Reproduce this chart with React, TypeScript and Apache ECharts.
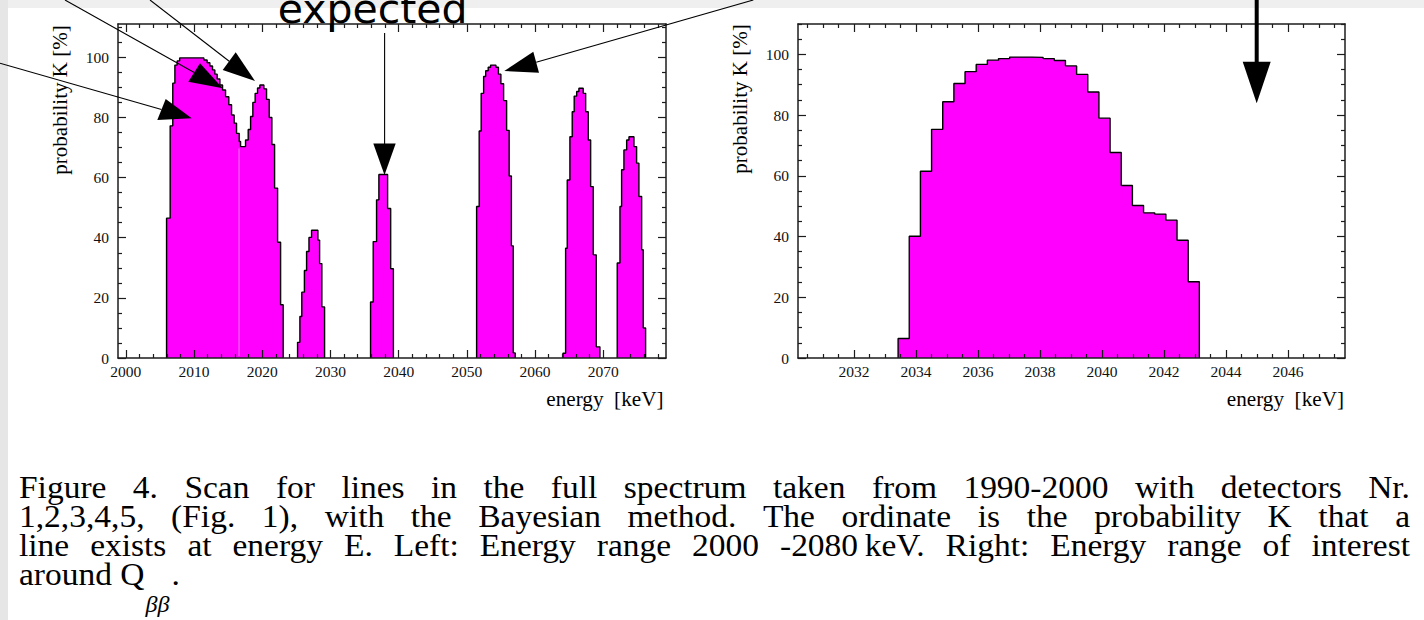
import { useEffect, useRef } from "react";
import * as echarts from "echarts";

const PAGE_W = 1424;
const PAGE_H = 620;

// ---- Left panel: probability K (%) of a line, 2000–2080 keV ----
// Each candidate line: left step edges (keV) and K (%) of every step; the last K (0) closes the step.
const LINE_2016_E = [2005.97, 2006.5, 2006.88, 2007.19, 2007.52, 2007.89, 2011.44, 2011.92, 2012.32, 2012.71, 2013.05, 2013.39, 2013.79, 2014.18, 2014.62, 2015.1, 2015.5, 2015.88, 2016.23, 2016.62, 2016.82, 2017.55, 2017.94, 2018.29, 2018.62, 2018.96, 2019.31, 2019.65, 2020.24, 2020.63, 2021.02, 2021.41, 2021.81, 2022.25, 2022.69, 2023.07];
const LINE_2016_K = [46.5, 77.2, 91.4, 97.4, 98.8, 99.8, 99.1, 98.2, 97.1, 95.8, 94.4, 92.8, 90.8, 89.1, 86.9, 84.2, 80.8, 78.1, 74.7, 72.0, 70.3, 72.5, 76.0, 80.3, 85.0, 88.0, 89.8, 90.8, 89.5, 86.0, 80.0, 71.0, 56.5, 38.5, 17.7, 0];

const LINE_2027_E = [2025.18, 2025.52, 2025.8, 2026.18, 2026.5, 2026.85, 2027.23, 2028.16, 2028.41, 2028.74, 2029.14];
const LINE_2027_K = [5.2, 13.8, 21.9, 29.1, 35.4, 40.1, 42.5, 39.2, 31.4, 17.0, 0];

const LINE_2037_E = [2035.88, 2036.27, 2036.76, 2037.1, 2038.38, 2038.83, 2039.23];
const LINE_2037_K = [18.6, 38.7, 52.6, 61.0, 49.7, 29.7, 0];

const LINE_2054_E = [2051.43, 2051.81, 2052.1, 2052.46, 2052.76, 2053.13, 2053.48, 2054.26, 2054.63, 2054.99, 2055.39, 2055.83, 2056.2, 2056.53, 2056.8, 2057.09];
const LINE_2054_K = [50.4, 75.5, 88.0, 93.6, 95.5, 96.7, 97.4, 96.7, 94.4, 91.2, 85.6, 75.7, 60.5, 37.3, 1.7, 0];

const LINE_2067_E = [2064.09, 2064.48, 2064.72, 2065.11, 2065.45, 2065.74, 2066.1, 2066.43, 2067.06, 2067.42, 2067.8, 2068.15, 2068.53, 2068.97, 2069.51];
const LINE_2067_K = [1.6, 36.5, 59.2, 73.6, 81.9, 87.1, 88.6, 89.7, 88.0, 81.9, 72.5, 57.0, 34.3, 3.7, 0];

const LINE_2074_E = [2072.05, 2072.45, 2072.69, 2073.03, 2073.43, 2073.77, 2074.5, 2074.89, 2075.23, 2075.63, 2075.86, 2076.21];
const LINE_2074_K = [31.6, 50.4, 62.6, 69.2, 72.5, 73.6, 70.3, 64.8, 53.7, 36.0, 10.0, 0];

// pale seam inside the first doublet's fill
const SEAM_E = 2016.6;
const SEAM_K = 70.3;

// ---- Right panel: region of interest around Q_bb, 0.36 keV bins ----
const ROI_BIN_START = 2033.42;
const ROI_BIN_WIDTH = 0.36;
const ROI_K = [6.4, 40.1, 61.5, 75.3, 84.4, 90.4, 94.3, 96.7, 98.1, 98.6, 99.1, 99.1, 99.0, 98.6, 98.0, 96.2, 93.4, 87.6, 79.0, 67.7, 56.8, 50.2, 47.8, 47.4, 45.4, 38.8, 25.1];

// ---- axis ranges and ticks ----
const LEFT_E_MIN = 1998.85;
const LEFT_E_MAX = 2079.2;
const LEFT_K_MAX = 111.07;
const RIGHT_E_MIN = 2030.19;
const RIGHT_E_MAX = 2047.84;
const RIGHT_K_MAX = 110;

const LEFT_E_TICKS = [2000, 2010, 2020, 2030, 2040, 2050, 2060, 2070];
const RIGHT_E_TICKS = [2032, 2034, 2036, 2038, 2040, 2042, 2044, 2046];
const K_TICKS = [0, 20, 40, 60, 80, 100];
const LEFT_E_MINOR_STEP = 2;
const RIGHT_E_MINOR_STEP = 0.5;
const K_MINOR_STEP = 5;

// ---- texts ----
const Y_NAME = "probability K [%]";
const X_NAME = "energy\u00a0\u00a0[keV]";
const NOTE = "expected";
const CAPTION_LINES = [
  "Figure 4. Scan for lines in the full spectrum taken from 1990-2000 with detectors Nr.",
  "1,2,3,4,5, (Fig. 1), with the Bayesian method. The ordinate is the probability K that a",
  "line exists at energy E. Left: Energy range 2000 -2080\u2009keV. Right: Energy range of interest",
];
const CAPTION_LAST = "around Q";
const CAPTION_SUB = "\u03b2\u03b2";
const CAPTION_END = ".";

const SERIF = '"Liberation Serif", "Times New Roman", serif';
const AXIS_COLOR = "#1c1c1c";
const FILL = "#ff00ff";

function minorTicks(min: number, max: number, step: number, majors: number[]) {
  const out: number[] = [];
  const first = Math.ceil(min / step - 1e-9) * step;
  for (let v = first; v <= max + 1e-9; v += step) {
    const r = Math.round(v * 1000) / 1000;
    if (!majors.some((m) => Math.abs(m - r) < 1e-6)) out.push(r);
  }
  return out;
}

function stepData(edges: number[], k: number[]) {
  const pts: number[][] = [[edges[0], 0]];
  edges.forEach((e, i) => pts.push([e, k[i]]));
  return pts;
}

function makeAxis(
  gridIndex: number,
  min: number,
  max: number,
  position: string,
  values: number[],
  major: boolean,
  labelled: boolean,
  margin: number
) {
  return {
    type: "value",
    gridIndex,
    min,
    max,
    position,
    z: 5,
    axisLine: { show: major, onZero: false, lineStyle: { color: AXIS_COLOR, width: 1.5 } },
    axisTick: {
      show: true,
      inside: true,
      length: major ? 8 : 4,
      customValues: values,
      lineStyle: { color: AXIS_COLOR, width: 1.2 },
    },
    axisLabel: labelled
      ? {
          show: true,
          customValues: values,
          margin,
          fontFamily: SERIF,
          fontSize: 15.5,
          color: "#111",
          formatter: (v: number) => String(v),
        }
      : { show: false },
    splitLine: { show: false },
  };
}

function histSeries(data: number[][], xi: number, yi: number) {
  return {
    type: "line",
    xAxisIndex: xi,
    yAxisIndex: yi,
    step: "end",
    symbol: "none",
    silent: true,
    data,
    lineStyle: { color: "#000", width: 1.4 },
    areaStyle: { color: FILL, opacity: 1 },
    z: 2,
  };
}

function textEl(text: string, x: number, y: number, font: string, extra: any = {}) {
  return {
    type: "text",
    x,
    y,
    z: 20,
    silent: true,
    ...extra,
    style: {
      text,
      font,
      fill: extra.fill || "#000",
      textAlign: extra.align || "left",
      textVerticalAlign: "middle",
    },
  };
}

function arrow(x1: number, y1: number, bx: number, by: number, head: number[][], width = 1.1) {
  return [
    {
      type: "line",
      z: 30,
      silent: true,
      shape: { x1, y1, x2: bx, y2: by },
      style: { stroke: "#000", lineWidth: width },
    },
    {
      type: "polygon",
      z: 30,
      silent: true,
      shape: { points: head },
      style: { fill: "#000" },
    },
  ];
}

function captionElements() {
  const els: any[] = [];
  const size = 31;
  const sx = 1.08;
  const font = `${size}px ${SERIF}`;
  const ctx = document.createElement("canvas").getContext("2d")!;
  ctx.font = font;
  const left = 19;
  const right = 1410;
  const ys = [487.8, 516.5, 545.2, 574.5];
  CAPTION_LINES.forEach((line, li) => {
    const words = line.split(" ");
    const widths = words.map((w) => ctx.measureText(w).width * sx);
    const total = widths.reduce((a, b) => a + b, 0);
    const gap = (right - left - total) / (words.length - 1);
    let x = left;
    words.forEach((w, i) => {
      els.push(textEl(w, x, ys[li], font, { scaleX: sx }));
      x += widths[i] + gap;
    });
  });
  const lastW = ctx.measureText(CAPTION_LAST).width * sx;
  els.push(textEl(CAPTION_LAST, left, ys[3], font, { scaleX: sx }));
  const subFont = `italic 24px ${SERIF}`;
  ctx.font = subFont;
  const subW = ctx.measureText(CAPTION_SUB).width;
  els.push(textEl(CAPTION_SUB, left + lastW + 1, 604, subFont));
  els.push(textEl(CAPTION_END, left + lastW + subW + 3, ys[3], font, { scaleX: sx }));
  return els;
}

function buildOption() {
  const leftEMinor = minorTicks(LEFT_E_MIN, LEFT_E_MAX, LEFT_E_MINOR_STEP, LEFT_E_TICKS);
  const rightEMinor = minorTicks(RIGHT_E_MIN, RIGHT_E_MAX, RIGHT_E_MINOR_STEP, RIGHT_E_TICKS);
  const leftKMinor = minorTicks(0, LEFT_K_MAX, K_MINOR_STEP, K_TICKS);
  const rightKMinor = minorTicks(0, RIGHT_K_MAX, K_MINOR_STEP, K_TICKS);

  const xAxis = [
    makeAxis(0, LEFT_E_MIN, LEFT_E_MAX, "bottom", LEFT_E_TICKS, true, true, 5),
    makeAxis(0, LEFT_E_MIN, LEFT_E_MAX, "bottom", leftEMinor, false, false, 0),
    makeAxis(0, LEFT_E_MIN, LEFT_E_MAX, "top", LEFT_E_TICKS, true, false, 0),
    makeAxis(0, LEFT_E_MIN, LEFT_E_MAX, "top", leftEMinor, false, false, 0),
    makeAxis(1, RIGHT_E_MIN, RIGHT_E_MAX, "bottom", RIGHT_E_TICKS, true, true, 5),
    makeAxis(1, RIGHT_E_MIN, RIGHT_E_MAX, "bottom", rightEMinor, false, false, 0),
    makeAxis(1, RIGHT_E_MIN, RIGHT_E_MAX, "top", RIGHT_E_TICKS, true, false, 0),
    makeAxis(1, RIGHT_E_MIN, RIGHT_E_MAX, "top", rightEMinor, false, false, 0),
  ];
  const yAxis = [
    makeAxis(0, 0, LEFT_K_MAX, "left", K_TICKS, true, true, 9),
    makeAxis(0, 0, LEFT_K_MAX, "left", leftKMinor, false, false, 0),
    makeAxis(0, 0, LEFT_K_MAX, "right", K_TICKS, true, false, 0),
    makeAxis(0, 0, LEFT_K_MAX, "right", leftKMinor, false, false, 0),
    makeAxis(1, 0, RIGHT_K_MAX, "left", K_TICKS, true, true, 9),
    makeAxis(1, 0, RIGHT_K_MAX, "left", rightKMinor, false, false, 0),
    makeAxis(1, 0, RIGHT_K_MAX, "right", K_TICKS, true, false, 0),
    makeAxis(1, 0, RIGHT_K_MAX, "right", rightKMinor, false, false, 0),
  ];

  const roiEdges = [...ROI_K.map((_, i) => ROI_BIN_START + i * ROI_BIN_WIDTH), ROI_BIN_START + ROI_K.length * ROI_BIN_WIDTH];
  const roiK = [...ROI_K, 0];

  const series: any[] = [
    histSeries(stepData(LINE_2016_E, LINE_2016_K), 0, 0),
    histSeries(stepData(LINE_2027_E, LINE_2027_K), 0, 0),
    histSeries(stepData(LINE_2037_E, LINE_2037_K), 0, 0),
    histSeries(stepData(LINE_2054_E, LINE_2054_K), 0, 0),
    histSeries(stepData(LINE_2067_E, LINE_2067_K), 0, 0),
    histSeries(stepData(LINE_2074_E, LINE_2074_K), 0, 0),
    {
      type: "line",
      xAxisIndex: 0,
      yAxisIndex: 0,
      symbol: "none",
      silent: true,
      data: [
        [SEAM_E, 0.6],
        [SEAM_E, SEAM_K - 0.6],
      ],
      lineStyle: { color: "rgba(255,255,255,0.45)", width: 1 },
      z: 3,
    },
    histSeries(stepData(roiEdges, roiK), 4, 4),
  ];

  const labelFont = `20px ${SERIF}`;
  const graphic: any[] = [
    { type: "rect", z: 1, silent: true, shape: { x: 0, y: 0, width: PAGE_W, height: 8 }, style: { fill: "#efefef" } },
    { type: "rect", z: 1, silent: true, shape: { x: 0, y: 0, width: 8, height: PAGE_H }, style: { fill: "#e6e6e6" } },
    textEl(Y_NAME, 60, 100, labelFont, { rotation: Math.PI / 2, align: "center", scaleX: 1.05 }),
    textEl(Y_NAME, 740, 99, labelFont, { rotation: Math.PI / 2, align: "center", scaleX: 1.05 }),
    textEl(X_NAME, 663.5, 399.5, labelFont, { align: "right", scaleX: 1.06 }),
    textEl(X_NAME, 1344, 399.5, labelFont, { align: "right", scaleX: 1.06 }),
    textEl(NOTE, 277.7, 9.1, '41px "DejaVu Sans", sans-serif'),
    ...arrow(0, 63.3, 161.5, 109.5, [[157.3, 120], [165.7, 99], [191.7, 118.3]]),
    ...arrow(65, 0, 194.2, 72.5, [[188.3, 81.7], [200, 63.3], [222.7, 88.3]]),
    ...arrow(150, 0, 229.2, 61.2, [[222.7, 70], [235.7, 52.3], [255, 81]]),
    ...arrow(384.6, 33, 384.6, 144, [[373.3, 143.5], [395.7, 143.5], [384.5, 175]]),
    ...arrow(753.3, 0, 536.2, 62.2, [[533.3, 51.7], [539, 72.7], [504.3, 71]]),
    ...arrow(1256.7, 0, 1256.7, 62, [[1242.7, 61.7], [1270.7, 61.7], [1256.7, 103.3]], 4),
    ...captionElements(),
  ];

  return {
    animation: false,
    backgroundColor: "#ffffff",
    grid: [
      { left: 118, top: 24, width: 548, height: 334 },
      { left: 798, top: 24, width: 547, height: 334 },
    ],
    xAxis,
    yAxis,
    series,
    graphic,
  };
}

export default function App() {
  const ref = useRef<HTMLDivElement>(null);
  useEffect(() => {
    if (!ref.current) return;
    const chart = echarts.init(ref.current, null, { renderer: "svg" });
    chart.setOption(buildOption() as any);
    return () => chart.dispose();
  }, []);
  return (
    <div
      ref={ref}
      style={{ position: "fixed", left: 0, top: 0, width: PAGE_W, height: PAGE_H, background: "#fff" }}
    />
  );
}
